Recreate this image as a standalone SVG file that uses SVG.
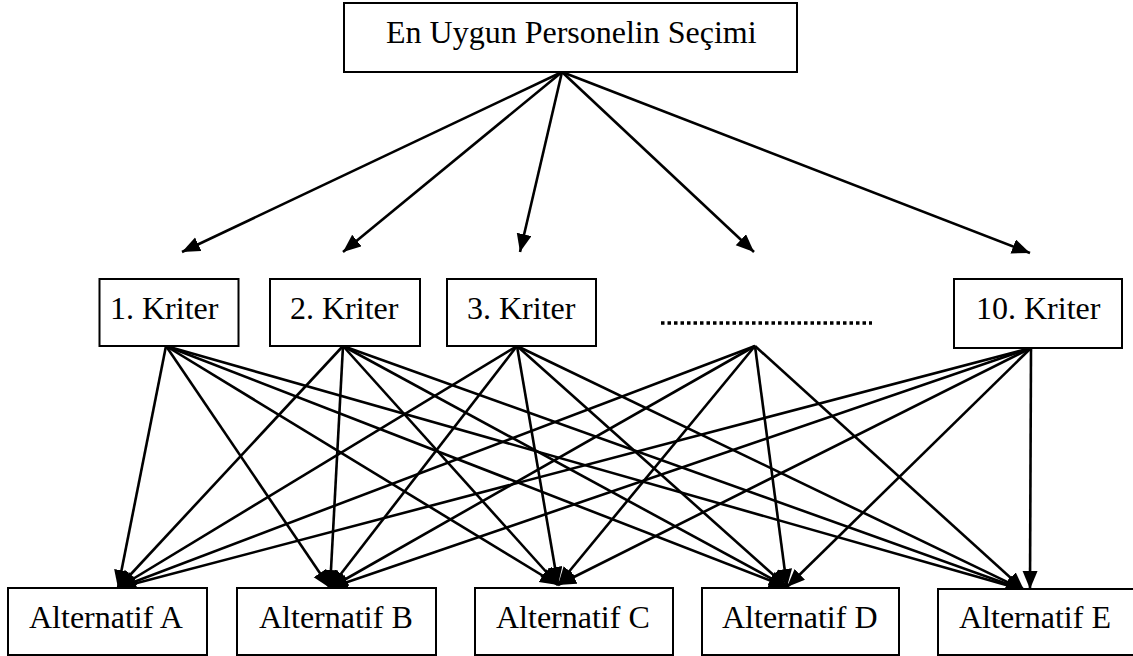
<svg xmlns="http://www.w3.org/2000/svg" width="1133" height="656" viewBox="0 0 1133 656">
<defs>
<marker id="ah" markerUnits="userSpaceOnUse" markerWidth="22" markerHeight="18" refX="18" refY="7.5" orient="auto">
<path d="M0,0 L18,7.5 L0,15 z" fill="#000"/>
</marker>
<style>
.box{fill:#fff;stroke:#000;stroke-width:2}
.t{font-family:"Liberation Serif","Times New Roman",serif;font-size:32px;fill:#000}
.c line{stroke:#000;stroke-width:2.6;marker-end:url(#ah)}
</style>
</defs>
<rect width="1133" height="656" fill="#fff"/>
<g class="c" id="connectors">
<line x1="562" y1="72" x2="182" y2="252"/>
<line x1="562" y1="72" x2="343" y2="252"/>
<line x1="562" y1="72" x2="520" y2="252"/>
<line x1="562" y1="72" x2="754" y2="252"/>
<line x1="562" y1="72" x2="1030" y2="253"/>
<line x1="166" y1="346" x2="118" y2="588"/>
<line x1="166" y1="346" x2="330" y2="588"/>
<line x1="166" y1="346" x2="558" y2="585"/>
<line x1="166" y1="346" x2="787" y2="587"/>
<line x1="166" y1="346" x2="1024" y2="590"/>
<line x1="343" y1="346" x2="118" y2="588"/>
<line x1="343" y1="346" x2="330" y2="588"/>
<line x1="343" y1="346" x2="558" y2="585"/>
<line x1="343" y1="346" x2="787" y2="587"/>
<line x1="343" y1="346" x2="1024" y2="590"/>
<line x1="517" y1="346" x2="118" y2="588"/>
<line x1="517" y1="346" x2="330" y2="588"/>
<line x1="517" y1="346" x2="558" y2="585"/>
<line x1="517" y1="346" x2="787" y2="587"/>
<line x1="517" y1="346" x2="1024" y2="590"/>
<line x1="755" y1="346" x2="118" y2="588"/>
<line x1="755" y1="346" x2="330" y2="588"/>
<line x1="755" y1="346" x2="558" y2="585"/>
<line x1="755" y1="346" x2="787" y2="587"/>
<line x1="755" y1="346" x2="1024" y2="590"/>
<line x1="1031" y1="348" x2="118" y2="588"/>
<line x1="1031" y1="348" x2="330" y2="588"/>
<line x1="1031" y1="348" x2="558" y2="585"/>
<line x1="1031" y1="348" x2="787" y2="587"/>
<line x1="1031" y1="348" x2="1030" y2="589"/>
</g>
<g id="goal"><rect class="box" x="344" y="3" width="453" height="69"/><text class="t" x="386" y="43">En Uygun Personelin Seçimi</text></g>
<g id="k1"><rect class="box" x="99.5" y="279" width="139" height="67"/><text class="t" x="110" y="319">1. Kriter</text></g>
<g id="k2"><rect class="box" x="270" y="279" width="150" height="67"/><text class="t" x="290" y="319">2. Kriter</text></g>
<g id="k3"><rect class="box" x="447" y="279" width="149" height="67"/><text class="t" x="467" y="319">3. Kriter</text></g>
<g id="kdots"><line x1="661" y1="323" x2="872" y2="323" stroke="#000" stroke-width="3.5" stroke-dasharray="3.5 3"/></g>
<g id="k10"><rect class="box" x="954" y="279" width="168" height="69"/><text class="t" x="976" y="319">10. Kriter</text></g>
<g id="altA"><rect class="box" x="8" y="588" width="199" height="67"/><text class="t" x="29" y="628">Alternatif A</text></g>
<g id="altB"><rect class="box" x="237" y="588" width="199" height="67"/><text class="t" x="259" y="628">Alternatif B</text></g>
<g id="altC"><rect class="box" x="475" y="588" width="198" height="67"/><text class="t" x="496" y="628">Alternatif C</text></g>
<g id="altD"><rect class="box" x="702" y="588" width="197" height="67"/><text class="t" x="722" y="628">Alternatif D</text></g>
<g id="altE"><rect class="box" x="938" y="589" width="200" height="66"/><text class="t" x="959" y="628">Alternatif E</text></g>
</svg>
